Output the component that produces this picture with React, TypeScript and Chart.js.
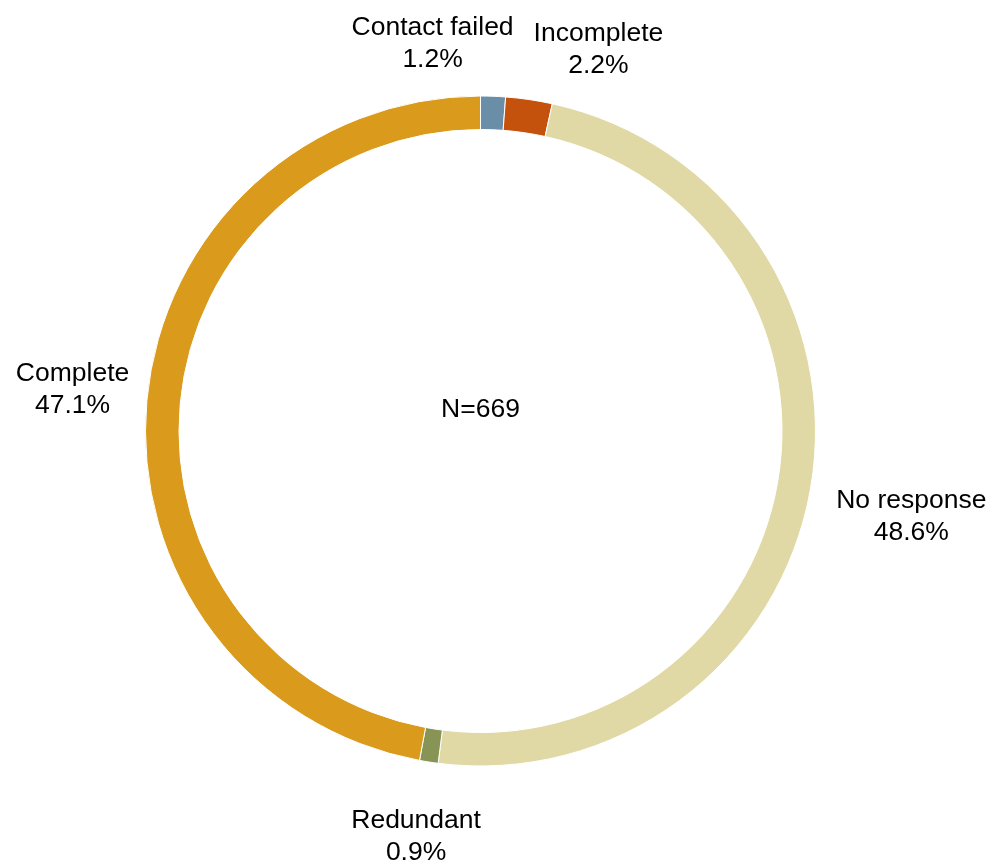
import React, { useEffect, useRef } from "react";
import { Chart, registerables } from "chart.js";

Chart.register(...registerables);

// ---- data ----
const categories = ["Contact failed", "Incomplete", "No response", "Redundant", "Complete"];
const counts = [8, 15, 325, 6, 315];
const percentLabels = ["1.2%", "2.2%", "48.6%", "0.9%", "47.1%"];
const totalLabel = "N=669";

const sliceColors = ["#6A8DA8", "#C4520D", "#E0D9A5", "#879456", "#DA9A1B"];

const FONT = "26.5px 'Liberation Sans', Arial, Helvetica, sans-serif";
const CENTER_FONT = "26.5px 'Liberation Sans', Arial, Helvetica, sans-serif";

// residual label nudges (px) applied after automatic placement
const labelNudge: Record<string, [number, number]> = {
  "Contact failed": [-4, -5],
  Incomplete: [-4, -3],
  "No response": [3, 18],
  Redundant: [1, 24],
  Complete: [6, -8],
};

const outsideLabels = {
  id: "outsideLabels",
  afterDatasetsDraw(chart: any) {
    const ctx = chart.ctx as CanvasRenderingContext2D;
    const meta = chart.getDatasetMeta(0);
    const lineGap = 32;
    const cap = 19;
    const boxH = cap + lineGap;
    const gap = 24;
    type Box = { cx: number; cy: number; w: number; h: number; name: string; pct: string };
    const boxes: Box[] = [];
    ctx.save();
    ctx.font = FONT;
    meta.data.forEach((arc: any, i: number) => {
      const mid = (arc.startAngle + arc.endAngle) / 2;
      const dx = Math.cos(mid);
      const dy = Math.sin(mid);
      const name = categories[i];
      const pct = percentLabels[i];
      const w = Math.max(ctx.measureText(name).width, ctx.measureText(pct).width);
      const r = arc.outerRadius + gap;
      const cx = arc.x + dx * r + (dx * w) / 2;
      const cy = arc.y + dy * r + (dy * boxH) / 2;
      boxes.push({ cx, cy, w, h: boxH, name, pct });
    });
    // simple horizontal repel for overlapping boxes
    const pad = 20;
    for (let iter = 0; iter < 10; iter++) {
      for (let a = 0; a < boxes.length; a++) {
        for (let b = a + 1; b < boxes.length; b++) {
          const A = boxes[a];
          const B = boxes[b];
          const vOverlap = Math.abs(A.cy - B.cy) < (A.h + B.h) / 2;
          const need = (A.w + B.w) / 2 + pad - Math.abs(A.cx - B.cx);
          if (vOverlap && need > 0) {
            const s = A.cx <= B.cx ? -1 : 1;
            A.cx += (s * need) / 2;
            B.cx -= (s * need) / 2;
          }
        }
      }
    }
    ctx.fillStyle = "#000";
    ctx.textAlign = "center";
    ctx.textBaseline = "alphabetic";
    boxes.forEach((b) => {
      const [nx, ny] = labelNudge[b.name] || [0, 0];
      const x = b.cx + nx;
      const top = b.cy + ny - b.h / 2;
      ctx.fillText(b.name, x, top + cap);
      ctx.fillText(b.pct, x, top + cap + lineGap);
    });
    // center text
    const first = meta.data[0];
    if (first) {
      ctx.font = CENTER_FONT;
      ctx.fillText(totalLabel, first.x, first.y - 14);
    }
    ctx.restore();
  },
};

export default function App() {
  const ref = useRef<HTMLCanvasElement | null>(null);
  useEffect(() => {
    document.body.style.margin = "0";
    if (!ref.current) return;
    const chart = new Chart(ref.current, {
      type: "doughnut",
      data: {
        labels: categories,
        datasets: [
          {
            data: counts,
            backgroundColor: sliceColors,
            borderColor: "#ffffff",
            borderWidth: 1,
          },
        ],
      },
      options: {
        responsive: false,
        maintainAspectRatio: false,
        animation: false,
        cutout: "90%",
        rotation: 0,
        layout: { padding: { left: 145, right: 181, top: 95, bottom: 100 } },
        plugins: {
          legend: { display: false },
          tooltip: { enabled: false },
          title: { display: false },
        },
      },
      plugins: [outsideLabels],
    });
    return () => chart.destroy();
  }, []);
  return (
    <div style={{ width: 997, height: 867, background: "#fff" }}>
      <canvas ref={ref} width={997} height={867} style={{ display: "block" }} />
    </div>
  );
}
